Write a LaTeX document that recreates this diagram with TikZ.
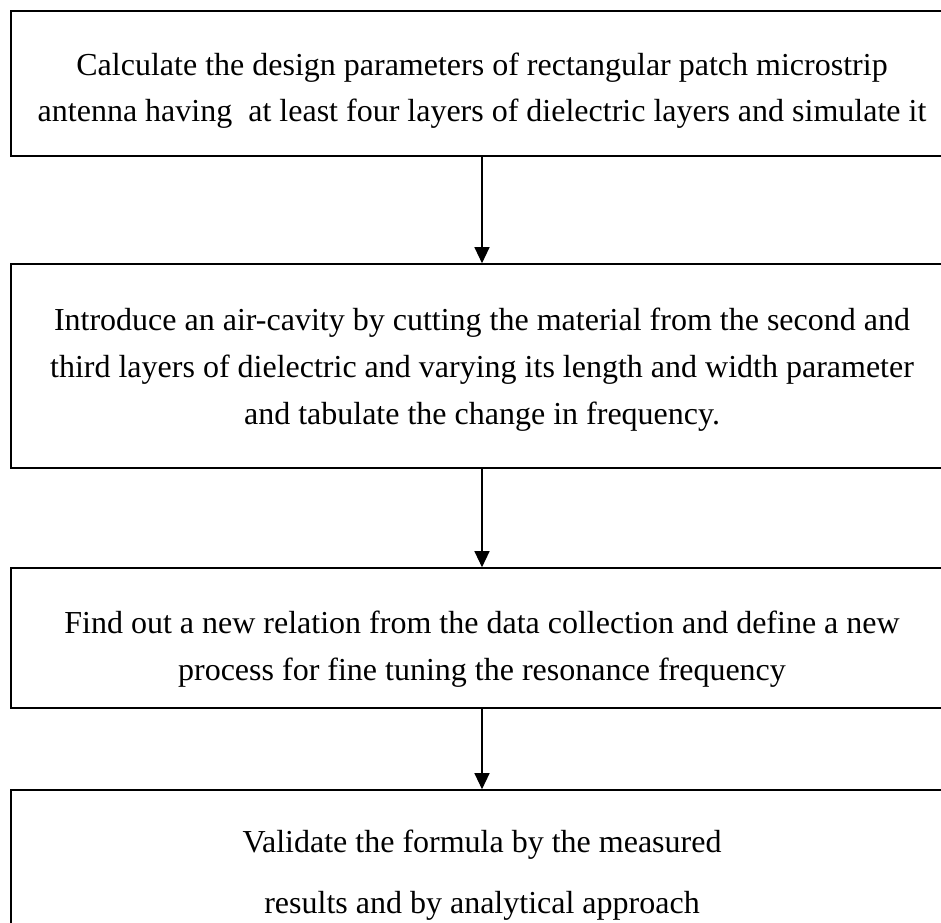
\documentclass[tikz,border=0pt]{standalone}
\usepackage{fontspec}
\setmainfont{Liberation Serif}
\usetikzlibrary{arrows.meta}
\begin{document}
\begin{tikzpicture}[x=1pt,y=-1pt,
  box/.style={draw=black,line width=1.6pt,minimum width=942pt,inner sep=0pt,rectangle},
  txt/.style={anchor=base,inner sep=0pt,font=\fontsize{32}{38}\selectfont},
  conn/.style={line width=1.2pt,-{Triangle[length=16pt,width=15pt]}}]
\useasboundingbox (0,0) rectangle (941,922);
\clip (0,0) rectangle (941,922);
\node[box,minimum height=145pt] (b1) at (482,83.5) {};
\node[box,minimum height=204pt] (b2) at (482,366) {};
\node[box,minimum height=140pt] (b3) at (482,638) {};
\node[box,minimum height=210pt] (b4) at (482,895) {};
\node[txt] (t11) at (482,75) {Calculate the design parameters of rectangular patch microstrip};
\node[txt] (t12) at (482,121) {antenna having\ \ at least four layers of dielectric layers and simulate it};
\node[txt] (t21) at (482,330) {Introduce an air-cavity by cutting the material from the second and};
\node[txt] (t22) at (482,377) {third layers of dielectric and varying its length and width parameter};
\node[txt] (t23) at (482,424) {and tabulate the change in frequency.};
\node[txt] (t31) at (482,633) {Find out a new relation from the data collection and define a new};
\node[txt] (t32) at (482,680) {process for fine tuning the resonance frequency};
\node[txt] (t41) at (482,852) {Validate the formula by the measured};
\node[txt] (t42) at (482,913) {results and by analytical approach};
\draw[conn] (b1) -- (b2);
\draw[conn] (b2) -- (b3);
\draw[conn] (b3) -- (b4);
\end{tikzpicture}
\end{document}
